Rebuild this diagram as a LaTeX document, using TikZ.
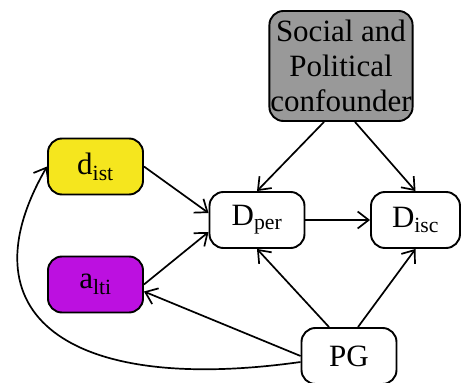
\documentclass[tikz,border=0pt]{standalone}
\usepackage{fontspec}
\setmainfont{Liberation Serif}
\usetikzlibrary{arrows.meta}

\definecolor{distyellow}{RGB}{245,230,30}
\definecolor{altipurple}{RGB}{188,16,224}
\definecolor{confgray}{RGB}{153,153,153}

\begin{document}
\begin{tikzpicture}[x=1pt, y=1pt,
  var/.style={draw, rounded corners=14pt, line width=1.9pt, minimum width=95pt,
    minimum height=56pt, inner sep=1pt, font=\fontsize{31}{35}\selectfont},
  pointer/.style={draw, -{Straight Barb[length=11pt, width=17pt]}, line width=1.7pt}
]
\useasboundingbox (0,0) rectangle (461,383);

% Nodes
\node[var, fill=confgray, align=center, minimum width=142pt, minimum height=110pt] (conf) at (341,317) {Social and\\Political\\confounder};
\node[var, fill=distyellow] (dist) at (95.5,216.5) {d\textsubscript{ist}};
\node[var, fill=altipurple] (alti) at (95.5,98.5) {a\textsubscript{lti}};
\node[var] (dper) at (257,163) {D\textsubscript{per}};
\node[var, minimum width=89pt] (disc) at (415.5,163) {D\textsubscript{isc}};
\node[var] (pg) at (349,27) {PG};

% Arrows from the confounder
\draw[pointer] ([xshift=-17pt]conf.south) -- (dper.north);
\draw[pointer] ([xshift=14pt]conf.south) -- (disc.north);

% Arrows into D_per and D_isc
\draw[pointer] (dper.east) -- (disc.west);
\draw[pointer] (dist.east) -- ([yshift=7pt]dper.west);
\draw[pointer] (alti.east) -- ([yshift=-12pt]dper.west);

% Arrows from PG
\draw[pointer] (pg.west) -- ([yshift=-7pt]alti.east);
\draw[pointer] ([xshift=-20pt]pg.north) -- (dper.south);
\draw[pointer] ([xshift=9pt]pg.north) -- (disc.south);

% Long arrow from PG round the left to d_ist
\draw[pointer] ([yshift=-6pt]pg.west) to[out=188, in=240, out looseness=1.9, in looseness=1.35] (dist.west);

\end{tikzpicture}
\end{document}
